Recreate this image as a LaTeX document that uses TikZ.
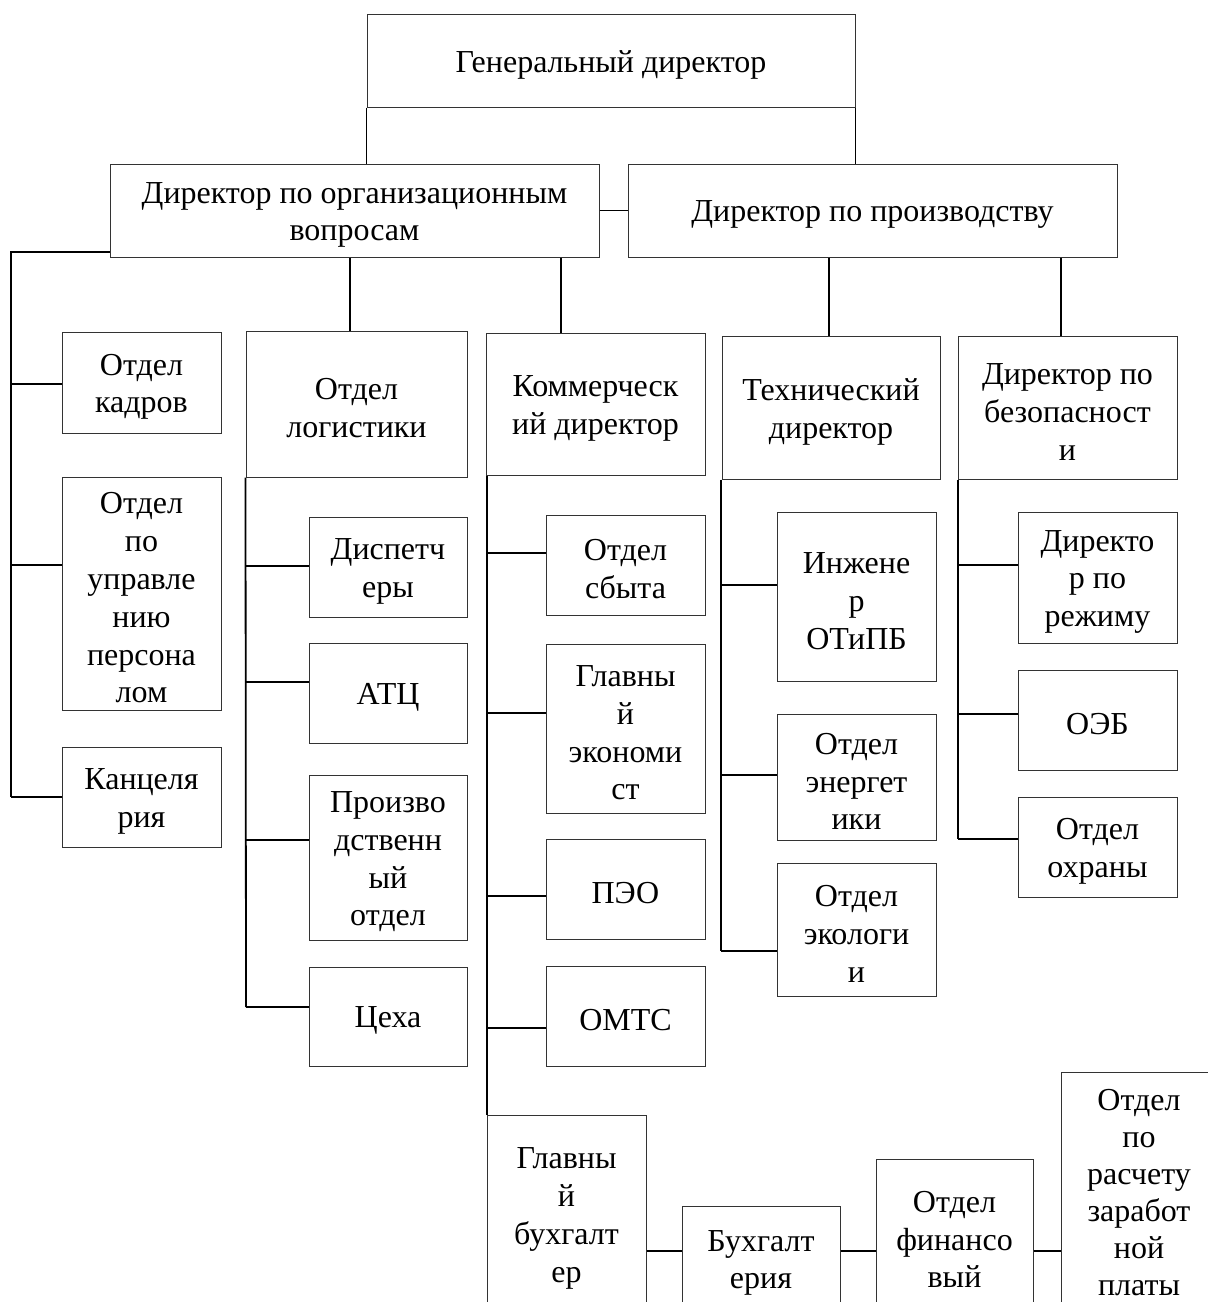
\documentclass[tikz,border=0pt]{standalone}
\usepackage{fontspec}
\setmainfont{Liberation Serif}
\tikzset{
  box/.style={draw=black!80, line width=0.5pt, inner sep=0pt},
  txt/.style={inner sep=0pt, align=center, yshift=-2.2pt,
    font={\fontsize{16pt}{18.9pt}\selectfont}},
  link/.style={draw=black, line width=0.9pt}
}
\newcommand\bx[6]{\node[box, minimum width={(#4-#2)*0.5pt}, minimum height={(#5-#3)*0.5pt}] (#1) at ({(#2+#4)/2},{(#3+#5)/2}) {};
\node[txt] (#1-t) at (#1.center) {#6};}
\begin{document}
\begin{tikzpicture}[x=0.5pt,y=-0.5pt]
\useasboundingbox (0,0) rectangle (1208,1302);
\clip (0,0) rectangle (1208,1302);
\bx{gen}{367}{14}{855}{107}{Генеральный директор}
\bx{org}{110}{164}{599}{257}{Директор по организационным\\вопросам}
\bx{prod}{628}{164}{1117}{257}{Директор по производству}
\bx{kad}{62}{332}{221}{433}{Отдел\\кадров}
\bx{upr}{62}{477}{221}{710}{Отдел\\по\\управле\\нию\\персона\\лом}
\bx{kanc}{62}{747}{221}{847}{Канцеля\\рия}
\bx{log}{246}{331}{467}{477}{Отдел\\логистики}
\bx{disp}{309}{517}{467}{617}{Диспетч\\еры}
\bx{atc}{309}{643}{467}{743}{АТЦ}
\bx{proizv}{309}{775}{467}{940}{Произво\\дственн\\ый\\отдел}
\bx{ceh}{309}{967}{467}{1066}{Цеха}
\bx{kom}{486}{333}{705}{475}{Коммерческ\\ий директор}
\bx{sbyt}{546}{515}{705}{615}{Отдел\\сбыта}
\bx{econ}{546}{644}{705}{813}{Главны\\й\\экономи\\ст}
\bx{peo}{546}{839}{705}{939}{ПЭО}
\bx{omts}{546}{966}{705}{1066}{ОМТС}
\bx{tech}{722}{336}{940}{479}{Технический\\директор}
\bx{ing}{777}{512}{936}{681}{Инжене\\р\\ОТиПБ}
\bx{energ}{777}{714}{936}{840}{Отдел\\энергет\\ики}
\bx{ecol}{777}{863}{936}{996}{Отдел\\экологи\\и}
\bx{bez}{958}{336}{1177}{479}{Директор по\\безопасност\\и}
\bx{rezh}{1018}{512}{1177}{643}{Директо\\р по\\режиму}
\bx{oeb}{1018}{670}{1177}{770}{ОЭБ}
\bx{ohr}{1018}{797}{1177}{897}{Отдел\\охраны}
\bx{buh}{487}{1115}{646}{1313}{Главны\\й\\бухгалт\\ер}
\bx{buhg}{682}{1206}{840}{1311}{Бухгалт\\ерия}
\bx{fin}{876}{1159}{1033}{1311}{Отдел\\финансо\\вый}
\node[box, minimum width={156*0.5pt}, minimum height={246*0.5pt}] (rasch) at (1139,1195) {};
\node[txt, yshift=3.4pt, font={\fontsize{16pt}{18.5pt}\selectfont}] (rasch-t) at (rasch.center) {Отдел\\по\\расчету\\заработ\\ной\\платы};
% top level
\draw[link] (gen.south west) -- (gen.south west |- org.north);
\draw[link] (gen.south east) -- (gen.south east |- prod.north);
\draw[link] (org.east) -- (prod.west);
% org subordinates
\coordinate (lt) at (11,252);
\draw[link] (org.west |- lt) -- (lt) -- (lt |- 0,797);
\draw[link] (lt |- 0,384) -- (kad.west |- 0,384);
\draw[link] (lt |- 0,565) -- (upr.west |- 0,565);
\draw[link] (lt |- 0,797) -- (kanc.west |- 0,797);
\draw[link] (org.south -| 350,0) -- (log.north -| 350,0);
\draw[link] (org.south -| 561,0) -- (kom.north -| 561,0);
% prod subordinates
\draw[link] (prod.south -| 829,0) -- (tech.north -| 829,0);
\draw[link] (prod.south -| 1061,0) -- (bez.north -| 1061,0);
% logistics
\coordinate (lg) at (246,1007);
\draw[link] (log.south west) -- (lg);
\draw[link] (lg |- 0,566) -- (disp.west |- 0,566);
\draw[link] (lg |- 0,682) -- (atc.west |- 0,682);
\draw[link] (lg |- 0,840) -- (proizv.west |- 0,840);
\draw[link] (lg) -- (ceh.west |- lg);
% commercial
\coordinate (km) at (487,0);
\draw[link] (kom.south -| km) -- (buh.north -| km);
\draw[link] (km |- 0,553) -- (sbyt.west |- 0,553);
\draw[link] (km |- 0,713) -- (econ.west |- 0,713);
\draw[link] (km |- 0,896) -- (peo.west |- 0,896);
\draw[link] (km |- 0,1028) -- (omts.west |- 0,1028);
% technical
\coordinate (tc) at (721,951);
\draw[link] (tech.south -| tc) -- (tc);
\draw[link] (tc |- 0,585) -- (ing.west |- 0,585);
\draw[link] (tc |- 0,775) -- (energ.west |- 0,775);
\draw[link] (tc) -- (ecol.west |- tc);
% security
\coordinate (sc) at (958,839);
\draw[link] (bez.south -| sc) -- (sc);
\draw[link] (sc |- 0,565) -- (rezh.west |- 0,565);
\draw[link] (sc |- 0,714) -- (oeb.west |- 0,714);
\draw[link] (sc) -- (ohr.west |- sc);
% accounting row
\draw[link] (buh.east |- 0,1251) -- (buhg.west |- 0,1251);
\draw[link] (buhg.east |- 0,1251) -- (fin.west |- 0,1251);
\draw[link] (fin.east |- 0,1251) -- (rasch.west |- 0,1251);
\end{tikzpicture}
\end{document}
